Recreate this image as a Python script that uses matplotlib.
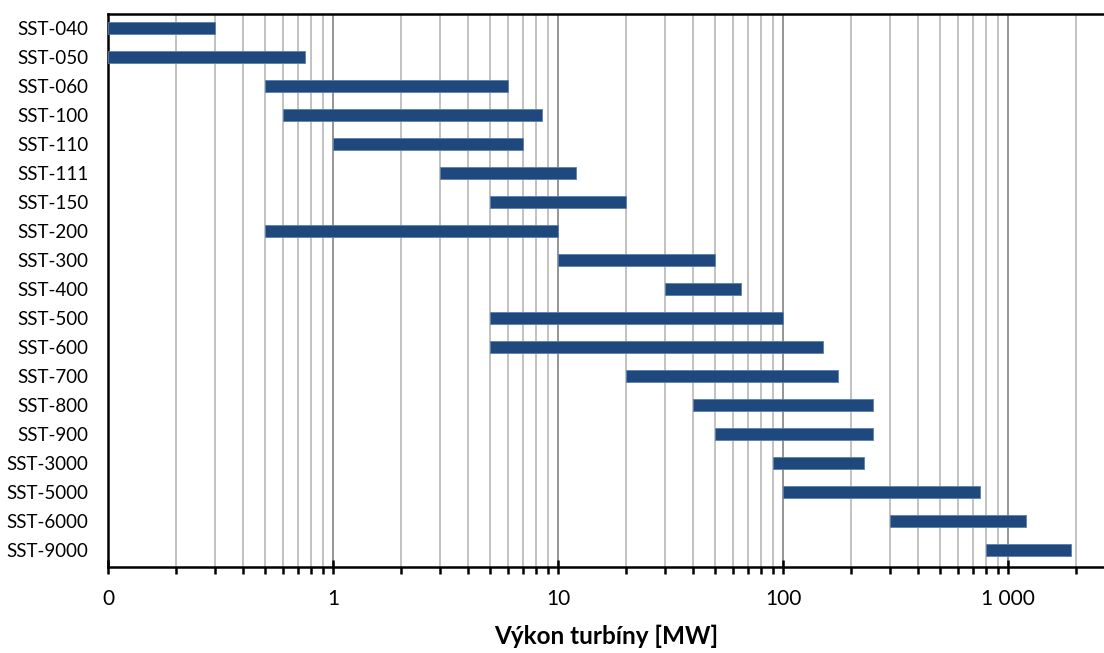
import matplotlib.pyplot as plt
from matplotlib.ticker import FixedLocator, FixedFormatter, LogLocator, NullFormatter

TURBINES = [
    "SST-040", "SST-050", "SST-060", "SST-100", "SST-110", "SST-111", "SST-150",
    "SST-200", "SST-300", "SST-400", "SST-500", "SST-600", "SST-700", "SST-800",
    "SST-900", "SST-3000", "SST-5000", "SST-6000", "SST-9000",
]
POWER_MIN = [0.1, 0.1, 0.5, 0.6, 1, 3, 5, 0.5, 10, 30, 5, 5, 20, 40, 50, 90, 100, 300, 800]
POWER_MAX = [0.3, 0.75, 6, 8.5, 7, 12, 20, 10, 50, 65, 100, 150, 175, 250, 250, 230, 750, 1200, 1900]

TICK_VALUES = [0.1, 1, 10, 100, 1000]
TICK_LABELS = ["0", "1", "10", "100", "1 000"]

BAR_COLOR = "#1f497d"

plt.rcParams["font.family"] = ["Lato", "DejaVu Sans"]

fig = plt.figure(figsize=(11.04, 6.53), dpi=100)
W, H = 1104, 653
left, right, top, bottom = 108, 1104, 13.5, 567
ax = fig.add_axes([left / W, 1 - bottom / H, (right - left) / W, (bottom - top) / H])

widths = [hi - lo for lo, hi in zip(POWER_MIN, POWER_MAX)]
ax.barh(range(len(TURBINES)), widths, left=POWER_MIN, height=0.4,
        color=BAR_COLOR, edgecolor="#5a7fae", linewidth=0.6, zorder=3)

ax.set_xscale("log")
ax.set_xlim(0.1, 10 ** (3 + 96 / 225))
ax.set_ylim(18.59, -0.5)

ax.xaxis.set_major_locator(FixedLocator(TICK_VALUES))
ax.xaxis.set_major_formatter(FixedFormatter(TICK_LABELS))
ax.xaxis.set_minor_locator(LogLocator(base=10, subs=range(2, 10)))
ax.xaxis.set_minor_formatter(NullFormatter())

ax.grid(True, which="major", axis="x", color="#8c8c8c", linewidth=1.3, zorder=0)
ax.grid(True, which="minor", axis="x", color="#bdbdbd", linewidth=1.3, zorder=0)

ax.set_yticks(range(len(TURBINES)))
ax.set_yticklabels(TURBINES, fontsize=13.5)
ax.tick_params(axis="y", length=0, pad=14)
ax.tick_params(axis="x", which="major", direction="inout", length=10, width=1.8,
               labelsize=15, pad=11)
ax.tick_params(axis="x", which="minor", direction="out", length=5, width=1.8)

for side in ["left", "top", "bottom"]:
    ax.spines[side].set_linewidth(1.8)
    ax.spines[side].set_color("black")
ax.spines["right"].set_visible(False)

ax.set_xlabel("Výkon turbíny [MW]", fontsize=17.5, fontweight="bold", labelpad=11)

fig.savefig("out.png", dpi=100)
